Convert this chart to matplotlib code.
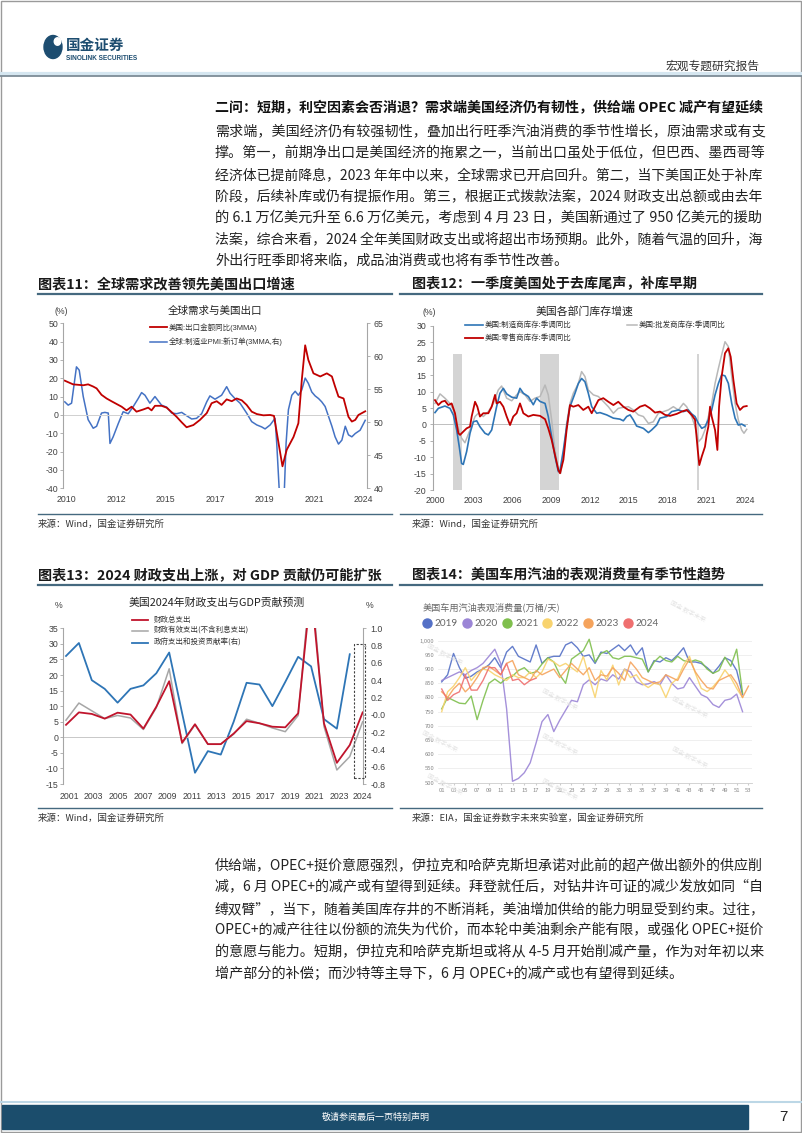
import numpy as np
import matplotlib
matplotlib.use('Agg')
import matplotlib.pyplot as plt
from matplotlib.lines import Line2D
from matplotlib.patches import Rectangle, Ellipse

plt.rcParams['font.family'] = ['Noto Sans CJK SC', 'DejaVu Sans']
plt.rcParams['axes.unicode_minus'] = False
NUM = ['Liberation Sans', 'Noto Sans CJK SC']

# ---------------- text ----------------
section_title = '二问：短期，利空因素会否消退？需求端美国经济仍有韧性，供给端 OPEC 减产有望延续'
para1 = [
    '需求端，美国经济仍有较强韧性，叠加出行旺季汽油消费的季节性增长，原油需求或有支',
    '撑。第一，前期净出口是美国经济的拖累之一，当前出口虽处于低位，但巴西、墨西哥等',
    '经济体已提前降息，2023 年年中以来，全球需求已开启回升。第二，当下美国正处于补库',
    '阶段，后续补库或仍有提振作用。第三，根据正式拨款法案，2024 财政支出总额或由去年',
    '的 6.1 万亿美元升至 6.6 万亿美元，考虑到 4 月 23 日，美国新通过了 950 亿美元的援助',
    '法案，综合来看，2024 全年美国财政支出或将超出市场预期。此外，随着气温的回升，海',
    '外出行旺季即将来临，成品油消费或也将有季节性改善。',
]
para2 = [
    '供给端，OPEC+挺价意愿强烈，伊拉克和哈萨克斯坦承诺对此前的超产做出额外的供应削',
    '减，6 月 OPEC+的减产或有望得到延续。拜登就任后，对钻井许可证的减少发放如同“自',
    '缚双臂”，当下，随着美国库存井的不断消耗，美油增加供给的能力明显受到约束。过往，',
    'OPEC+的减产往往以份额的流失为代价，而本轮中美油剩余产能有限，或强化 OPEC+挺价',
    '的意愿与能力。短期，伊拉克和哈萨克斯坦或将从 4-5 月开始削减产量，作为对年初以来',
    '增产部分的补偿；而沙特等主导下，6 月 OPEC+的减产或也有望得到延续。',
]

# ---------------- chart 11 ----------------
exp_x = [2009.92, 2010.31, 2010.79, 2011.02, 2011.26, 2011.42, 2011.65, 2011.89, 2012.12, 2012.36,
         2012.60, 2012.83, 2013.07, 2013.30, 2013.62, 2013.85, 2014.01, 2014.17, 2014.48, 2014.72,
         2014.96, 2015.19, 2015.43, 2015.66, 2015.98, 2016.29, 2016.61, 2016.84, 2017.08, 2017.31,
         2017.55, 2017.79, 2018.02, 2018.26, 2018.49, 2018.73, 2018.97, 2019.28, 2019.60, 2019.78,
         2019.99, 2020.18, 2020.38, 2020.70, 2020.93, 2021.09, 2021.25, 2021.40, 2021.64, 2021.96,
         2022.27, 2022.51, 2022.66, 2022.82, 2023.06, 2023.29, 2023.45, 2023.61, 2023.76, 2023.92,
         2024.08]
exp_yoy = [18.7, 16.7, 16.2, 16.7, 15.5, 14.5, 11.0, 9.0, 7.5, 6.0,
           4.5, 2.5, 4.5, 1.8, 3.0, 4.0, 2.5, 5.0, 5.0, 4.0,
           1.5, -1.0, -4.0, -6.7, -5.5, -2.7, 1.0, 6.4, 7.5, 5.5,
           8.5, 7.5, 9.0, 8.0, 5.5, 1.8, 0.5, -0.2, 0.0, -0.5,
           -15.0, -28.0, -19.0, -12.0, -4.5, 19.0, 38.0, 30.0, 22.7, 21.0,
           22.7, 21.0, 15.5, 10.0, 9.0, -1.0, -3.6, -2.7, 0.0, 1.0,
           2.0]
pmi_x = [2009.92, 2010.08, 2010.24, 2010.47, 2010.60, 2010.79, 2011.02, 2011.26, 2011.42, 2011.65,
         2011.81, 2011.97, 2012.05, 2012.20, 2012.44, 2012.67, 2012.91, 2013.15, 2013.38, 2013.54,
         2013.70, 2013.93, 2014.17, 2014.48, 2014.72, 2014.96, 2015.19, 2015.43, 2015.66, 2015.90,
         2016.13, 2016.37, 2016.61, 2016.76, 2017.00, 2017.31, 2017.55, 2017.71, 2017.94, 2018.18,
         2018.49, 2018.73, 2018.97, 2019.20, 2019.36, 2019.60, 2019.83, 2019.91, 2020.04, 2020.15,
         2020.26, 2020.35, 2020.46, 2020.62, 2020.78, 2020.93, 2021.09, 2021.25, 2021.40, 2021.56,
         2021.72, 2021.88, 2022.03, 2022.19, 2022.35, 2022.51, 2022.66, 2022.82, 2022.98, 2023.14,
         2023.29, 2023.45, 2023.61, 2023.84, 2024.08]
pmi_new_orders = [53.1, 52.6, 52.9, 58.4, 57.9, 53.9, 50.4, 49.1, 49.4, 51.4,
                  51.5, 51.4, 46.8, 47.8, 49.8, 51.6, 51.3, 52.4, 53.6, 54.5,
                  54.1, 52.9, 53.9, 52.6, 52.3, 51.4, 51.3, 51.5, 51.0, 50.5,
                  50.6, 51.3, 53.1, 54.0, 53.5, 54.1, 55.4, 54.4, 53.6, 52.9,
                  51.4, 50.1, 49.6, 49.3, 49.0, 49.6, 50.6, 46.8, 39.0, 37.0,
                  39.0, 46.8, 51.9, 54.1, 54.7, 54.1, 54.9, 56.7, 55.9, 54.6,
                  54.0, 53.6, 53.1, 52.4, 50.9, 49.4, 47.8, 46.7, 47.3, 49.4,
                  48.1, 47.8, 48.3, 48.8, 50.3]
c11_xlabels = ['2010', '2012', '2015', '2017', '2019', '2021', '2024']

# ---------------- chart 12 ----------------
mfg_x = [2000.00, 2000.26, 2000.77, 2001.16, 2001.42, 2001.68, 2001.88, 2002.06, 2002.19, 2002.45,
         2002.71, 2002.97, 2003.23, 2003.48, 2003.87, 2004.13, 2004.39, 2004.77, 2005.03, 2005.29,
         2005.55, 2005.94, 2006.32, 2006.58, 2006.84, 2007.23, 2007.61, 2007.87, 2008.13, 2008.52,
         2008.77, 2009.03, 2009.29, 2009.55, 2009.68, 2009.94, 2010.19, 2010.45, 2010.84, 2011.10,
         2011.35, 2011.61, 2011.87, 2012.13, 2012.52, 2012.77, 2013.29, 2013.81, 2014.32, 2014.58,
         2014.84, 2015.10, 2015.35, 2015.61, 2016.13, 2016.52, 2016.77, 2017.16, 2017.42, 2017.94,
         2018.32, 2018.84, 2019.23, 2019.61, 2019.87, 2020.13, 2020.39, 2020.65, 2020.90, 2021.16,
         2021.42, 2021.68, 2021.94, 2022.19, 2022.45, 2022.71, 2022.97, 2023.23, 2023.48, 2023.74,
         2024.00]
mfg_inv = [3.6, 4.9, 5.6, 4.9, 2.9, -1.7, -6.8, -11.9, -12.2, -8.3,
           -2.7, 0.8, 1.1, -0.7, -2.7, -3.2, -1.7, 5.4, 9.5, 11.0,
           9.3, 8.3, 8.0, 11.0, 9.5, 8.5, 6.0, 8.0, 7.0, 6.4,
           2.4, -3.7, -9.8, -14.4, -13.9, -7.8, -0.7, 5.4, 9.5, 12.5,
           14.0, 13.0, 9.5, 5.4, 3.4, 3.6, 2.9, 1.9, 1.6, 1.1,
           2.4, 2.9, 1.4, -0.5, -1.2, -2.5, -1.7, -0.2, 1.9, 2.4,
           3.9, 4.4, 3.9, 4.4, 3.2, 2.4, 0.3, -1.2, -0.7, 1.4,
           4.4, 9.0, 12.5, 15.1, 14.8, 12.5, 6.4, 1.9, -0.2, 0.1,
           -0.5]
whs_x = [2000.00, 2000.39, 2000.77, 2001.16, 2001.42, 2001.68, 2002.06, 2002.32, 2002.71, 2003.10,
         2003.35, 2003.74, 2004.13, 2004.52, 2004.90, 2005.16, 2005.55, 2005.94, 2006.32, 2006.58,
         2006.97, 2007.35, 2007.74, 2008.13, 2008.52, 2008.77, 2009.03, 2009.29, 2009.55, 2009.73,
         2009.99, 2010.19, 2010.45, 2010.71, 2011.10, 2011.35, 2011.61, 2011.87, 2012.26, 2012.65,
         2013.03, 2013.42, 2013.81, 2014.19, 2014.58, 2014.97, 2015.35, 2015.74, 2016.13, 2016.52,
         2016.90, 2017.29, 2017.68, 2018.06, 2018.45, 2018.84, 2019.23, 2019.48, 2019.87, 2020.13,
         2020.39, 2020.65, 2020.90, 2021.16, 2021.42, 2021.68, 2021.94, 2022.19, 2022.45, 2022.71,
         2022.97, 2023.23, 2023.48, 2023.74, 2023.92, 2024.13]
whs_inv = [6.4, 9.3, 8.0, 6.4, 4.4, 0.3, -4.2, -5.6, -1.7, 2.4,
           3.4, 2.4, 3.9, 6.4, 10.5, 11.7, 8.0, 7.2, 9.0, 10.0,
           9.0, 7.0, 8.0, 8.5, 12.0, 9.0, 1.4, -7.8, -13.9, -14.9,
           -7.8, 0.3, 6.4, 9.5, 12.5, 16.1, 14.6, 10.5, 9.0, 8.5,
           7.0, 5.4, 3.4, 4.9, 5.2, 5.4, 4.4, 2.9, 2.4, 0.3,
           0.8, 3.4, 3.9, 4.4, 5.4, 4.4, 6.4, 5.4, 2.4, -0.7,
           -5.3, -4.2, -1.7, 2.4, 6.4, 12.5, 17.1, 21.2, 25.2, 23.7,
           14.6, 6.4, 1.4, -1.7, -2.7, -1.5]
rtl_x = [2000.00, 2000.26, 2000.52, 2000.77, 2001.03, 2001.29, 2001.55, 2001.81, 2001.94, 2002.19,
         2002.45, 2002.71, 2002.84, 2003.10, 2003.28, 2003.48, 2003.74, 2004.13, 2004.39, 2004.65,
         2004.77, 2005.03, 2005.29, 2005.55, 2005.81, 2006.06, 2006.32, 2006.58, 2006.84, 2007.23,
         2007.61, 2008.13, 2008.52, 2008.77, 2009.03, 2009.29, 2009.55, 2009.68, 2009.94, 2010.19,
         2010.45, 2010.71, 2011.10, 2011.48, 2011.87, 2012.13, 2012.39, 2012.65, 2013.03, 2013.42,
         2013.81, 2014.19, 2014.58, 2014.97, 2015.35, 2015.87, 2016.26, 2016.65, 2017.03, 2017.42,
         2017.81, 2018.19, 2018.71, 2019.10, 2019.48, 2019.87, 2020.13, 2020.34, 2020.46, 2020.65,
         2020.90, 2021.03, 2021.16, 2021.29, 2021.42, 2021.68, 2021.86, 2021.99, 2022.19, 2022.45,
         2022.71, 2022.89, 2023.10, 2023.35, 2023.61, 2023.87, 2024.13]
rtl_inv = [7.4, 5.9, 6.9, 7.2, 5.9, 6.4, 3.4, -2.7, -3.2, -2.2,
           -1.2, -0.7, 2.4, 6.9, 5.4, 2.4, 3.4, 3.4, 5.4, 9.0,
           6.4, 6.9, 5.4, 2.4, -0.2, 2.4, 3.4, 6.4, 3.4, 2.4,
           2.9, 2.6, 1.6, -1.2, -4.7, -9.3, -13.9, -14.9, -10.8, -1.7,
           5.9, 5.4, 5.9, 4.4, 5.4, 3.4, 5.4, 7.4, 8.0, 6.9,
           5.9, 6.9, 5.4, 4.4, 3.9, 5.4, 5.9, 4.9, 3.6, 3.9,
           2.9, 2.6, 3.2, 3.9, 4.4, 2.9, 1.4, -7.8, -12.4, -9.8,
           -6.8, -3.2, -0.7, 5.4, 2.4, -1.7, -7.8, 5.4, 14.6, 21.7,
           23.2, 20.6, 13.5, 6.4, 4.4, 5.4, 5.6]
rec_start = [2001.42, 2008.13, 2020.30]
rec_end = [2002.06, 2009.63, 2020.40]

# ---------------- chart 13 ----------------
fis_years = list(range(2001, 2025))
fis_total = [4.0, 8.0, 7.5, 6.0, 7.9, 7.3, 2.8, 9.8, 18.0, -1.7, 4.2, -2.2,
             -2.2, 1.2, 5.2, 4.5, 3.4, 3.2, 7.7, 48.0, 4.5, -8.2, -2.5, 8.0]
fis_effective = [5.5, 11.0, 8.5, 6.0, 7.0, 6.2, 2.5, 9.5, 22.0, -2.0, 4.0, -2.2,
                 -2.2, 1.0, 5.8, 4.5, 3.0, 1.8, 7.0, 52.0, 3.5, -10.5, -6.2, 5.0]
gov_years = list(range(2001, 2024))
gov_contrib = [0.68, 0.83, 0.40, 0.30, 0.14, 0.30, 0.34, 0.48, 0.72, 0.02, -0.67, -0.42,
               -0.46, -0.08, 0.37, 0.35, 0.10, 0.38, 0.67, 0.56, -0.05, -0.16, 0.70]
c13_labels = ['2001', '2003', '2005', '2007', '2009', '2011', '2013', '2015', '2017',
              '2019', '2021', '2023', '2024']

# ---------------- chart 14 ----------------
gas = {
    '2019': [855, 880, 955, 905, 868, 875, 890, 900, 915, 940, 905, 960, 980, 945, 935, 925, 985, 920,
             940, 945, 945, 985, 995, 975, 945, 950, 920, 960, 955, 970, 985, 965, 985, 950, 975, 890,
             930, 925, 940, 930, 950, 975, 925, 925, 920, 905, 885, 910, 940, 930, 895, 810],
    '2020': [860, 870, 880, 890, 880, 895, 905, 920, 945, 970, 920, 760, 505, 515, 535, 570, 640, 715,
             740, 680, 720, 755, 790, 785, 845, 862, 845, 865, 858, 880, 865, 900, 890, 855, 845, 848,
             856, 845, 880, 850, 830, 835, 870, 840, 810, 800, 775, 765, 790, 795, 812, 750],
    '2021': [760, 800, 790, 780, 778, 805, 722, 790, 850, 865, 850, 868, 875, 895, 905, 885, 890, 918,
             940, 925, 880, 850, 935, 950, 965, 1005, 925, 955, 965, 940, 935, 945, 945, 940, 935, 890,
             925, 945, 930, 925, 945, 930, 925, 932, 925, 900, 885, 895, 942, 910, 970, 815],
    '2022': [750, 820, 840, 870, 905, 860, 885, 900, 895, 880, 870, 860, 880, 870, 870, 890, 870, 890,
             935, 925, 910, 920, 905, 890, 945, 870, 800, 895, 862, 914, 844, 900, 870, 880, 850, 835,
             850, 845, 800, 850, 867, 914, 945, 885, 832, 821, 838, 862, 897, 870, 832, 800],
    '2023': [820, 800, 830, 850, 820, 840, 870, 905, 910, 895, 880, 920, 930, 880, 870, 860, 895, 880,
             890, 900, 870, 895, 920, 900, 880, 905, 860, 880, 875, 905, 885, 860, 925, 900, 870, 860,
             850, 855, 880, 870, 860, 900, 935, 890, 860, 835, 830, 860, 870, 880, 850, 800, 840],
    '2024': [830, 790, 810, 820, 880, 826, 826, 860, 905, 905, 880, 920, 860, 865, 845, 860, 868],
}
gas_colors = {'2019': '#5470c6', '2020': '#9b85d6', '2021': '#7fbf4d',
              '2022': '#f8d36e', '2023': '#f5a35c', '2024': '#ef6f6f'}

W, H = 802, 1133
fig = plt.figure(figsize=(W / 100, H / 100), dpi=100)
fig.patch.set_facecolor('white')
renderer = fig.canvas.get_renderer()


def fx(x):
    return x / W


def fy(y):
    return 1 - y / H


def box(x0, y0, x1, y1):
    return [x0 / W, 1 - y1 / H, (x1 - x0) / W, (y1 - y0) / H]


def hline(x0, x1, y, color, lw, **kw):
    fig.add_artist(Line2D([fx(x0), fx(x1)], [fy(y), fy(y)], transform=fig.transFigure,
                          color=color, lw=lw, **kw))


def txt(x, y, s, **kw):
    kw.setdefault('va', 'center')
    return fig.text(fx(x), fy(y), s, **kw)


def fit_line(x, y, s, fs, width, full=True, **kw):
    # shrink/grow a full line a little so that it ends at the right margin
    t = txt(x, y, s, fontsize=fs, **kw)
    w = t.get_window_extent(renderer).width
    if full or w > width:
        t.set_fontsize(fs * width / w)
    return t


# page frame, header, footer
fig.add_artist(Rectangle((0.001, 0.001), 0.998, 0.998, transform=fig.transFigure,
                         fill=False, ec='#9a9a9a', lw=1.0))
fig.add_artist(Ellipse((fx(53), fy(47)), 18 / W, 23 / H, transform=fig.transFigure,
                       color='#1d4d70'))
fig.add_artist(Ellipse((fx(57.5), fy(41.5)), 6.5 / W, 7.5 / H, transform=fig.transFigure,
                       color='white'))
txt(66, 45, '国金证券', fontsize=10.5, fontweight='bold', color='#1d4d70')
txt(66, 58, 'SINOLINK SECURITIES', fontsize=4.7, fontweight='bold', color='#1d4d70',
    family=NUM)
txt(760, 66, '宏观专题研究报告', fontsize=8.5, color='#333333', ha='right')
hline(0, W, 73.5, '#d5e6f0', 3)
hline(0, W, 75.8, '#7d8c97', 1.3)

hline(0, W, 1101.5, '#bcd7e6', 1.5)
fig.add_artist(Rectangle((fx(2), fy(1129)), (748 - 2) / W, 24 / H, transform=fig.transFigure,
                         color='#1b4d6c'))
txt(376, 1117, '敬请参阅最后一页特别声明', fontsize=6.5, color='white', ha='center')
txt(783, 1117, '7', fontsize=11, color='#222222', ha='center', family=NUM)

# section title and paragraphs
fit_line(215, 108, section_title, 10.2, 547, fontweight='bold', color='#111111')
for i, line in enumerate(para1):
    fit_line(215, 132 + i * 21.5, line, 10.2, 547, full=(i < len(para1) - 1), color='#222222')
for i, line in enumerate(para2):
    fit_line(215, 866 + i * 21.5, line, 10.2, 547, full=(i < len(para2) - 1), color='#222222')

# chart frames
title_col = '#1a1a1a'
rule_col = '#45697f'
for (x0, x1, ty, by, title, src) in [
        (38, 392, 284, 513.5, '图表11：全球需求改善领先美国出口增速', '来源：Wind，国金证券研究所'),
        (400, 762, 284, 513.5, '图表12：一季度美国处于去库尾声，补库早期', '来源：Wind，国金证券研究所'),
        (38, 392, 575, 808, '图表13：2024 财政支出上涨，对 GDP 贡献仍可能扩张', '来源：Wind，国金证券研究所'),
        (400, 762, 575, 808, '图表14：美国车用汽油的表观消费量有季节性趋势',
         '来源：EIA，国金证券数字未来实验室，国金证券研究所')]:
    tx = x0 if x0 < 100 else 412
    txt(tx, ty, title, fontsize=10.2, fontweight='bold', color=title_col)
    hline(x0, x1, ty + 9.5, rule_col, 1.6)
    hline(x0, x1, by, rule_col, 1.0)
    txt(tx, by + 10.5, src, fontsize=6.8, color='#333333')


def style_ax(ax, left=True, right=False):
    for s in ['top', 'bottom']:
        ax.spines[s].set_visible(False)
    ax.spines['left'].set_visible(left)
    ax.spines['right'].set_visible(right)
    for s in ['left', 'right']:
        ax.spines[s].set_color('#a6a6a6')
        ax.spines[s].set_linewidth(0.8)
    ax.patch.set_visible(False)
    ax.tick_params(axis='both', labelsize=6.3, colors='#404040', labelfontfamily='Liberation Sans',
                   length=2, width=0.6)
    ax.tick_params(axis='y', color='#a6a6a6', pad=1.5)
    ax.tick_params(axis='x', length=0, pad=5)


# ---- chart 11 ----
ax = fig.add_axes(box(63.3, 323.3, 366.7, 488.3))
ax2 = ax.twinx()
ax.set_zorder(ax2.get_zorder() + 1)
ax.plot(exp_x, exp_yoy, color='#c00000', lw=1.3)
ax2.plot(pmi_x, pmi_new_orders, color='#4472c4', lw=1.1)
ax.axhline(0, color='#d0d0d0', lw=0.7, zorder=0)
ax.set_xlim(2009.85, 2024.15)
ax.set_ylim(-40, 50)
ax2.set_ylim(40, 65)
ax.set_yticks(range(-40, 51, 10))
ax2.set_yticks(range(40, 66, 5))
ax.set_xticks(np.linspace(2010, 2024, 7))
ax.set_xticklabels(c11_xlabels)
style_ax(ax)
style_ax(ax2, left=False, right=True)
ax2.tick_params(axis='y', pad=3)
txt(61.7, 311, '(%)', fontsize=6.3, color='#404040', ha='center', family=NUM)
txt(215, 311, '全球需求与美国出口', fontsize=7.6, color='#222222', ha='center')
hline(150, 166.7, 327.3, '#c00000', 1.3)
txt(168.3, 327.3, '美国:出口金额同比(3MMA)', fontsize=5.4, color='#333333', family=NUM)
hline(150, 166.7, 341.7, '#4472c4', 1.1)
txt(168.3, 341.7, '全球:制造业PMI:新订单(3MMA,右)', fontsize=5.4, color='#333333', family=NUM)

# ---- chart 12 ----
ax = fig.add_axes(box(433.3, 326, 748, 490))
for s, e in zip(rec_start, rec_end):
    ax.axvspan(s, e, ymin=0, ymax=(21.5 + 20) / 50, color='#d4d4d4', lw=0, zorder=0)
ax.axhline(0, color='#bfbfbf', lw=0.7, zorder=1)
ax.plot(whs_x, whs_inv, color='#b8b8b8', lw=1.1, zorder=2)
ax.plot(mfg_x, mfg_inv, color='#2e75b6', lw=1.2, zorder=3)
ax.plot(rtl_x, rtl_inv, color='#c00000', lw=1.3, zorder=4)
ax.set_xlim(1999.87, 2024.23)
ax.set_ylim(-20, 30)
ax.set_yticks(range(-20, 31, 5))
ax.set_xticks(range(2000, 2025, 3))
style_ax(ax)
ax.tick_params(axis='y', pad=3)
ax.tick_params(axis='x', pad=4)
txt(429.3, 312.7, '(%)', fontsize=6.3, color='#404040', ha='center', family=NUM)
txt(585, 311.7, '美国各部门库存增速', fontsize=7.8, color='#222222', ha='center')
hline(465, 483.3, 325, '#2e75b6', 1.2)
txt(485, 325, '美国:制造商库存:季调同比', fontsize=5.4, color='#333333')
hline(627, 637.3, 325, '#b8b8b8', 1.1)
txt(638.5, 325, '美国:批发商库存:季调同比', fontsize=5.4, color='#333333')
hline(465, 483.3, 337.7, '#c00000', 1.3)
txt(485, 337.7, '美国:零售商库存:季调同比', fontsize=5.4, color='#333333')

# ---- chart 13 ----
ax = fig.add_axes(box(63.3, 628.3, 363.3, 784))
ax2 = ax.twinx()
ax.set_zorder(ax2.get_zorder() + 1)
ax.axhline(0, color='#c8c8c8', lw=0.7, zorder=0)
ax.plot(fis_years, fis_effective, color='#a6a6a6', lw=1.1)
ax.plot(fis_years, fis_total, color='#c0142c', lw=1.3)
ax2.plot(gov_years, gov_contrib, color='#2e75b6', lw=1.3)
ax.set_xlim(2000.79, 2024.05)
ax.set_ylim(-15, 35)
ax2.set_ylim(-0.8, 1.0)
ax.set_yticks(range(-15, 36, 5))
ax2.set_yticks(np.arange(-0.8, 1.01, 0.2))
ax2.set_yticklabels(['%.1f' % v for v in np.arange(-0.8, 1.01, 0.2)])
ax.set_xticks(list(np.linspace(2001.25, 2022.2, 12)) + [2024.0])
ax.set_xticklabels(c13_labels)
style_ax(ax)
style_ax(ax2, left=False, right=True)
ax.tick_params(axis='x', pad=5.5)
ax2.tick_params(axis='y', pad=2.5, length=2.5)
ax.add_patch(Rectangle((2023.30, -13.2), 0.9, 43.1, fill=False, ec='#404040', lw=0.8,
                       ls=(0, (2, 1.5)), clip_on=False, zorder=5))
txt(59, 605, '%', fontsize=6.3, color='#404040', ha='center', family=NUM)
txt(370, 605, '%', fontsize=6.3, color='#404040', ha='center', family=NUM)
txt(216.7, 602.7, '美国2024年财政支出与GDP贡献预测', fontsize=7.8, color='#222222', ha='center')
hline(131.7, 148.3, 620, '#c0142c', 1.3)
txt(153.3, 620, '财政总支出', fontsize=5.4, color='#333333')
hline(131.7, 148.3, 631, '#a6a6a6', 1.1)
txt(153.3, 631, '财政有效支出(不含利息支出)', fontsize=5.4, color='#333333')
hline(131.7, 148.3, 642.7, '#2e75b6', 1.3)
txt(153.3, 642.7, '政府支出和投资贡献率(右)', fontsize=5.4, color='#333333')

# ---- chart 14 ----
ax = fig.add_axes(box(438, 636, 752, 782.7))
for k, vals in gas.items():
    ax.plot(range(1, len(vals) + 1), vals, color=gas_colors[k], lw=1.0, alpha=0.9)
ax.set_xlim(0.37, 53.6)
ax.set_ylim(500, 1016.5)
ax.set_yticks(range(500, 1001, 50))
ax.set_yticklabels([('{:,}'.format(v)) for v in range(500, 1001, 50)])
ax.set_xticks(range(1, 54, 2))
ax.set_xticklabels(['%02d' % w for w in range(1, 54, 2)])
ax.grid(axis='y', color='#ececec', lw=0.6)
ax.set_axisbelow(True)
for s in ['top', 'right', 'left']:
    ax.spines[s].set_visible(False)
ax.spines['bottom'].set_color('#cccccc')
ax.spines['bottom'].set_linewidth(0.6)
ax.tick_params(axis='both', labelsize=4.2, colors='#888888', length=0, pad=2.5)
ax.tick_params(axis='x', length=1.5, color='#cccccc')
for (wx, wy) in [(445, 655), (560, 700), (688, 612), (690, 708), (440, 742), (560, 745),
                 (690, 758), (560, 790), (445, 785)]:
    txt(wx, wy, '国金 数字未来', fontsize=4.5, color='#e4e4e4', rotation=-28, ha='center',
        zorder=0)
txt(423, 607.3, '美国车用汽油表观消费量(万桶/天)', fontsize=6.6, color='#666666')
for i, k in enumerate(gas.keys()):
    cx = 426.7 + i * 40.2
    fig.add_artist(Line2D([fx(cx)], [fy(623.3)], transform=fig.transFigure, marker='o',
                          markersize=6.5, color=gas_colors[k], lw=0))
    txt(cx + 8, 623.5, k, fontsize=7.2, color='#666666', family=['Lato', 'DejaVu Sans'])

fig.savefig('out.png', dpi=100, facecolor='white')
